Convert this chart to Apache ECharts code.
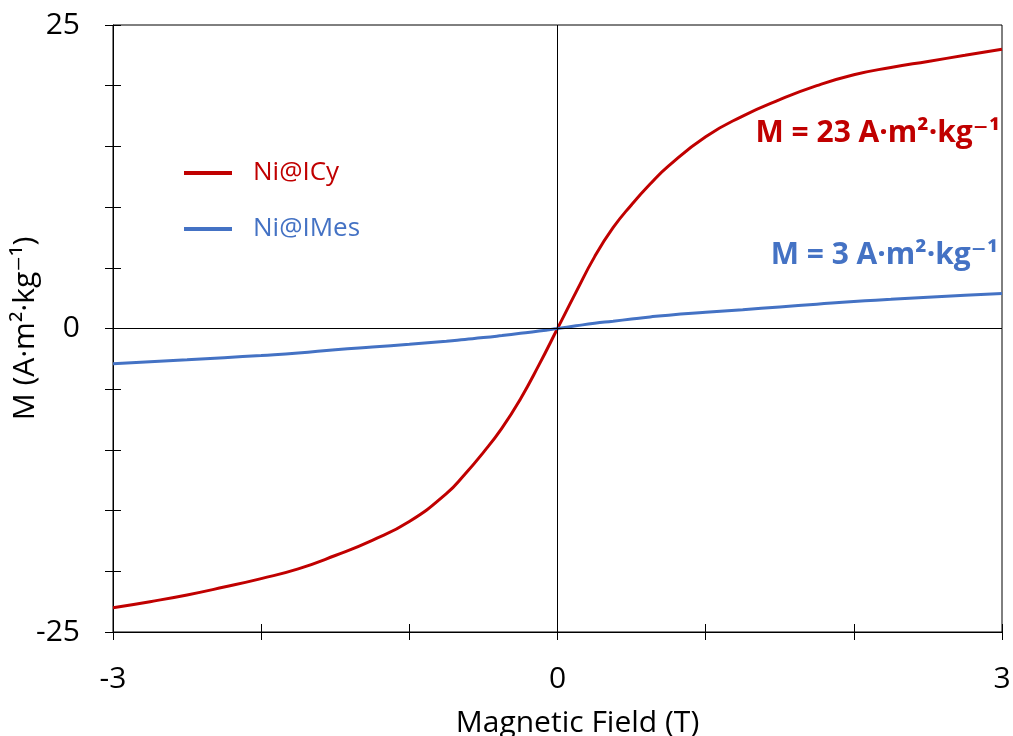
<!DOCTYPE html>
<html><head><meta charset="utf-8">
<script src="https://cdn.jsdelivr.net/npm/echarts@6/dist/echarts.min.js"></script>
<style>html,body{margin:0;padding:0;background:#fff}#c{width:1013px;height:736px}</style>
</head><body><div id="c"></div>
<script>
const fieldT = [-3,-2.75,-2.5,-2.25,-2,-1.75,-1.5,-1.25,-1,-0.75,-0.625,-0.5,-0.375,-0.25,-0.125,0,0.125,0.25,0.375,0.5,0.625,0.75,1,1.25,1.5,1.75,2,2.25,2.5,2.75,3];
const niICy = [-23.0,-22.5,-21.95,-21.3,-20.6,-19.8,-18.7,-17.45,-15.9,-13.6,-12.0,-10.2,-8.2,-5.8,-3.0,0,3.0,5.9,8.3,10.2,11.9,13.4,15.8,17.5,18.85,20.0,20.9,21.5,22.0,22.5,23.0];
const niIMes = [-2.9,-2.74,-2.58,-2.4,-2.22,-2.02,-1.75,-1.52,-1.3,-1.05,-0.9,-0.75,-0.58,-0.4,-0.21,0,0.22,0.43,0.6,0.78,0.95,1.1,1.33,1.55,1.78,2.0,2.22,2.4,2.58,2.74,2.88];
const seriesNames = ['Ni@ICy','Ni@IMes'];
const seriesColors = ['#C00000','#4472C4'];
const xTickLabels = [-3,0,3];
const yTickLabels = [-25,0,25];
const annotations = ['M = 23 A·m²·kg⁻¹','M = 3 A·m²·kg⁻¹'];

const FONT = '"Open Sans", "DejaVu Sans", sans-serif';
const GRID = {left:113,right:11,top:25,bottom:104};
const chart = echarts.init(document.getElementById('c'));
const pairs = arr => fieldT.map((x,i)=>[x,arr[i]]);
const baseAxisX = {type:'value',min:-3,max:3,interval:1};
const baseAxisY = {type:'value',min:-25,max:25,interval:5};
chart.setOption({
  animation:false,
  backgroundColor:'#fff',
  grid:[
    Object.assign({show:true,borderColor:'#000',borderWidth:1,outerBoundsMode:'none',containLabel:false},GRID),
    Object.assign({show:false,outerBoundsMode:'none',containLabel:false},GRID)
  ],
  legend:{
    orient:'vertical',left:179,top:152,itemWidth:48,itemHeight:4,itemGap:24,icon:'rect',
    textStyle:{fontFamily:FONT,fontSize:26,padding:[0,0,0,16],lineHeight:32},
    data:seriesNames.map((n,i)=>({name:n,textStyle:{color:seriesColors[i]}}))
  },
  xAxis:[
    Object.assign({},baseAxisX,{
      gridIndex:0,position:'bottom',
      name:'Magnetic Field (T)',nameLocation:'middle',nameGap:76,nameMoveOverlap:false,
      nameTextStyle:{fontFamily:FONT,fontSize:30,color:'#000',padding:[0,0,0,40]},
      axisLine:{onZero:false,lineStyle:{color:'#000',width:1}},
      axisTick:{show:true,length:8,lineStyle:{color:'#000'}},
      axisLabel:{fontFamily:FONT,fontSize:30,color:'#000',margin:32,
        formatter:v=>xTickLabels.includes(v)?String(v):''},
      splitLine:{show:false}
    }),
    Object.assign({},baseAxisX,{
      gridIndex:1,position:'bottom',
      axisLine:{onZero:false,show:false},
      axisTick:{show:true,inside:true,length:8,lineStyle:{color:'#000'}},
      axisLabel:{show:false},splitLine:{show:false}
    })
  ],
  yAxis:[
    Object.assign({},baseAxisY,{
      gridIndex:0,position:'left',
      name:'M (A·m²·kg⁻¹)',nameLocation:'middle',nameGap:73,nameMoveOverlap:false,
      nameTextStyle:{fontFamily:FONT,fontSize:30,color:'#000'},
      axisLine:{onZero:false,lineStyle:{color:'#000',width:1}},
      axisTick:{show:true,length:8,lineStyle:{color:'#000'}},
      axisLabel:{fontFamily:FONT,fontSize:30,color:'#000',margin:33,
        formatter:v=>yTickLabels.includes(v)?String(v):''},
      splitLine:{show:false}
    }),
    Object.assign({},baseAxisY,{
      gridIndex:1,position:'left',
      axisLine:{onZero:false,show:false},
      axisTick:{show:true,inside:true,length:8,lineStyle:{color:'#000'}},
      axisLabel:{show:false},splitLine:{show:false}
    })
  ],
  series:[
    {name:seriesNames[0],type:'line',xAxisIndex:0,yAxisIndex:0,data:pairs(niICy),smooth:true,showSymbol:false,
     lineStyle:{color:seriesColors[0],width:3},itemStyle:{color:seriesColors[0]},z:3,
     markLine:{silent:true,symbol:['none','none'],label:{show:false},
       lineStyle:{color:'#000',width:1,type:'solid'},
       data:[{xAxis:0},{yAxis:0}]}},
    {name:seriesNames[1],type:'line',xAxisIndex:0,yAxisIndex:0,data:pairs(niIMes),smooth:true,showSymbol:false,
     lineStyle:{color:seriesColors[1],width:3},itemStyle:{color:seriesColors[1]},z:4}
  ],
  graphic:[
    {type:'text',right:13,top:118,style:{text:annotations[0],fill:seriesColors[0],
      font:'bold 30px '+FONT}},
    {type:'text',right:15,top:240,style:{text:annotations[1],fill:seriesColors[1],
      font:'bold 30px '+FONT}}
  ]
});
</script></body></html>
